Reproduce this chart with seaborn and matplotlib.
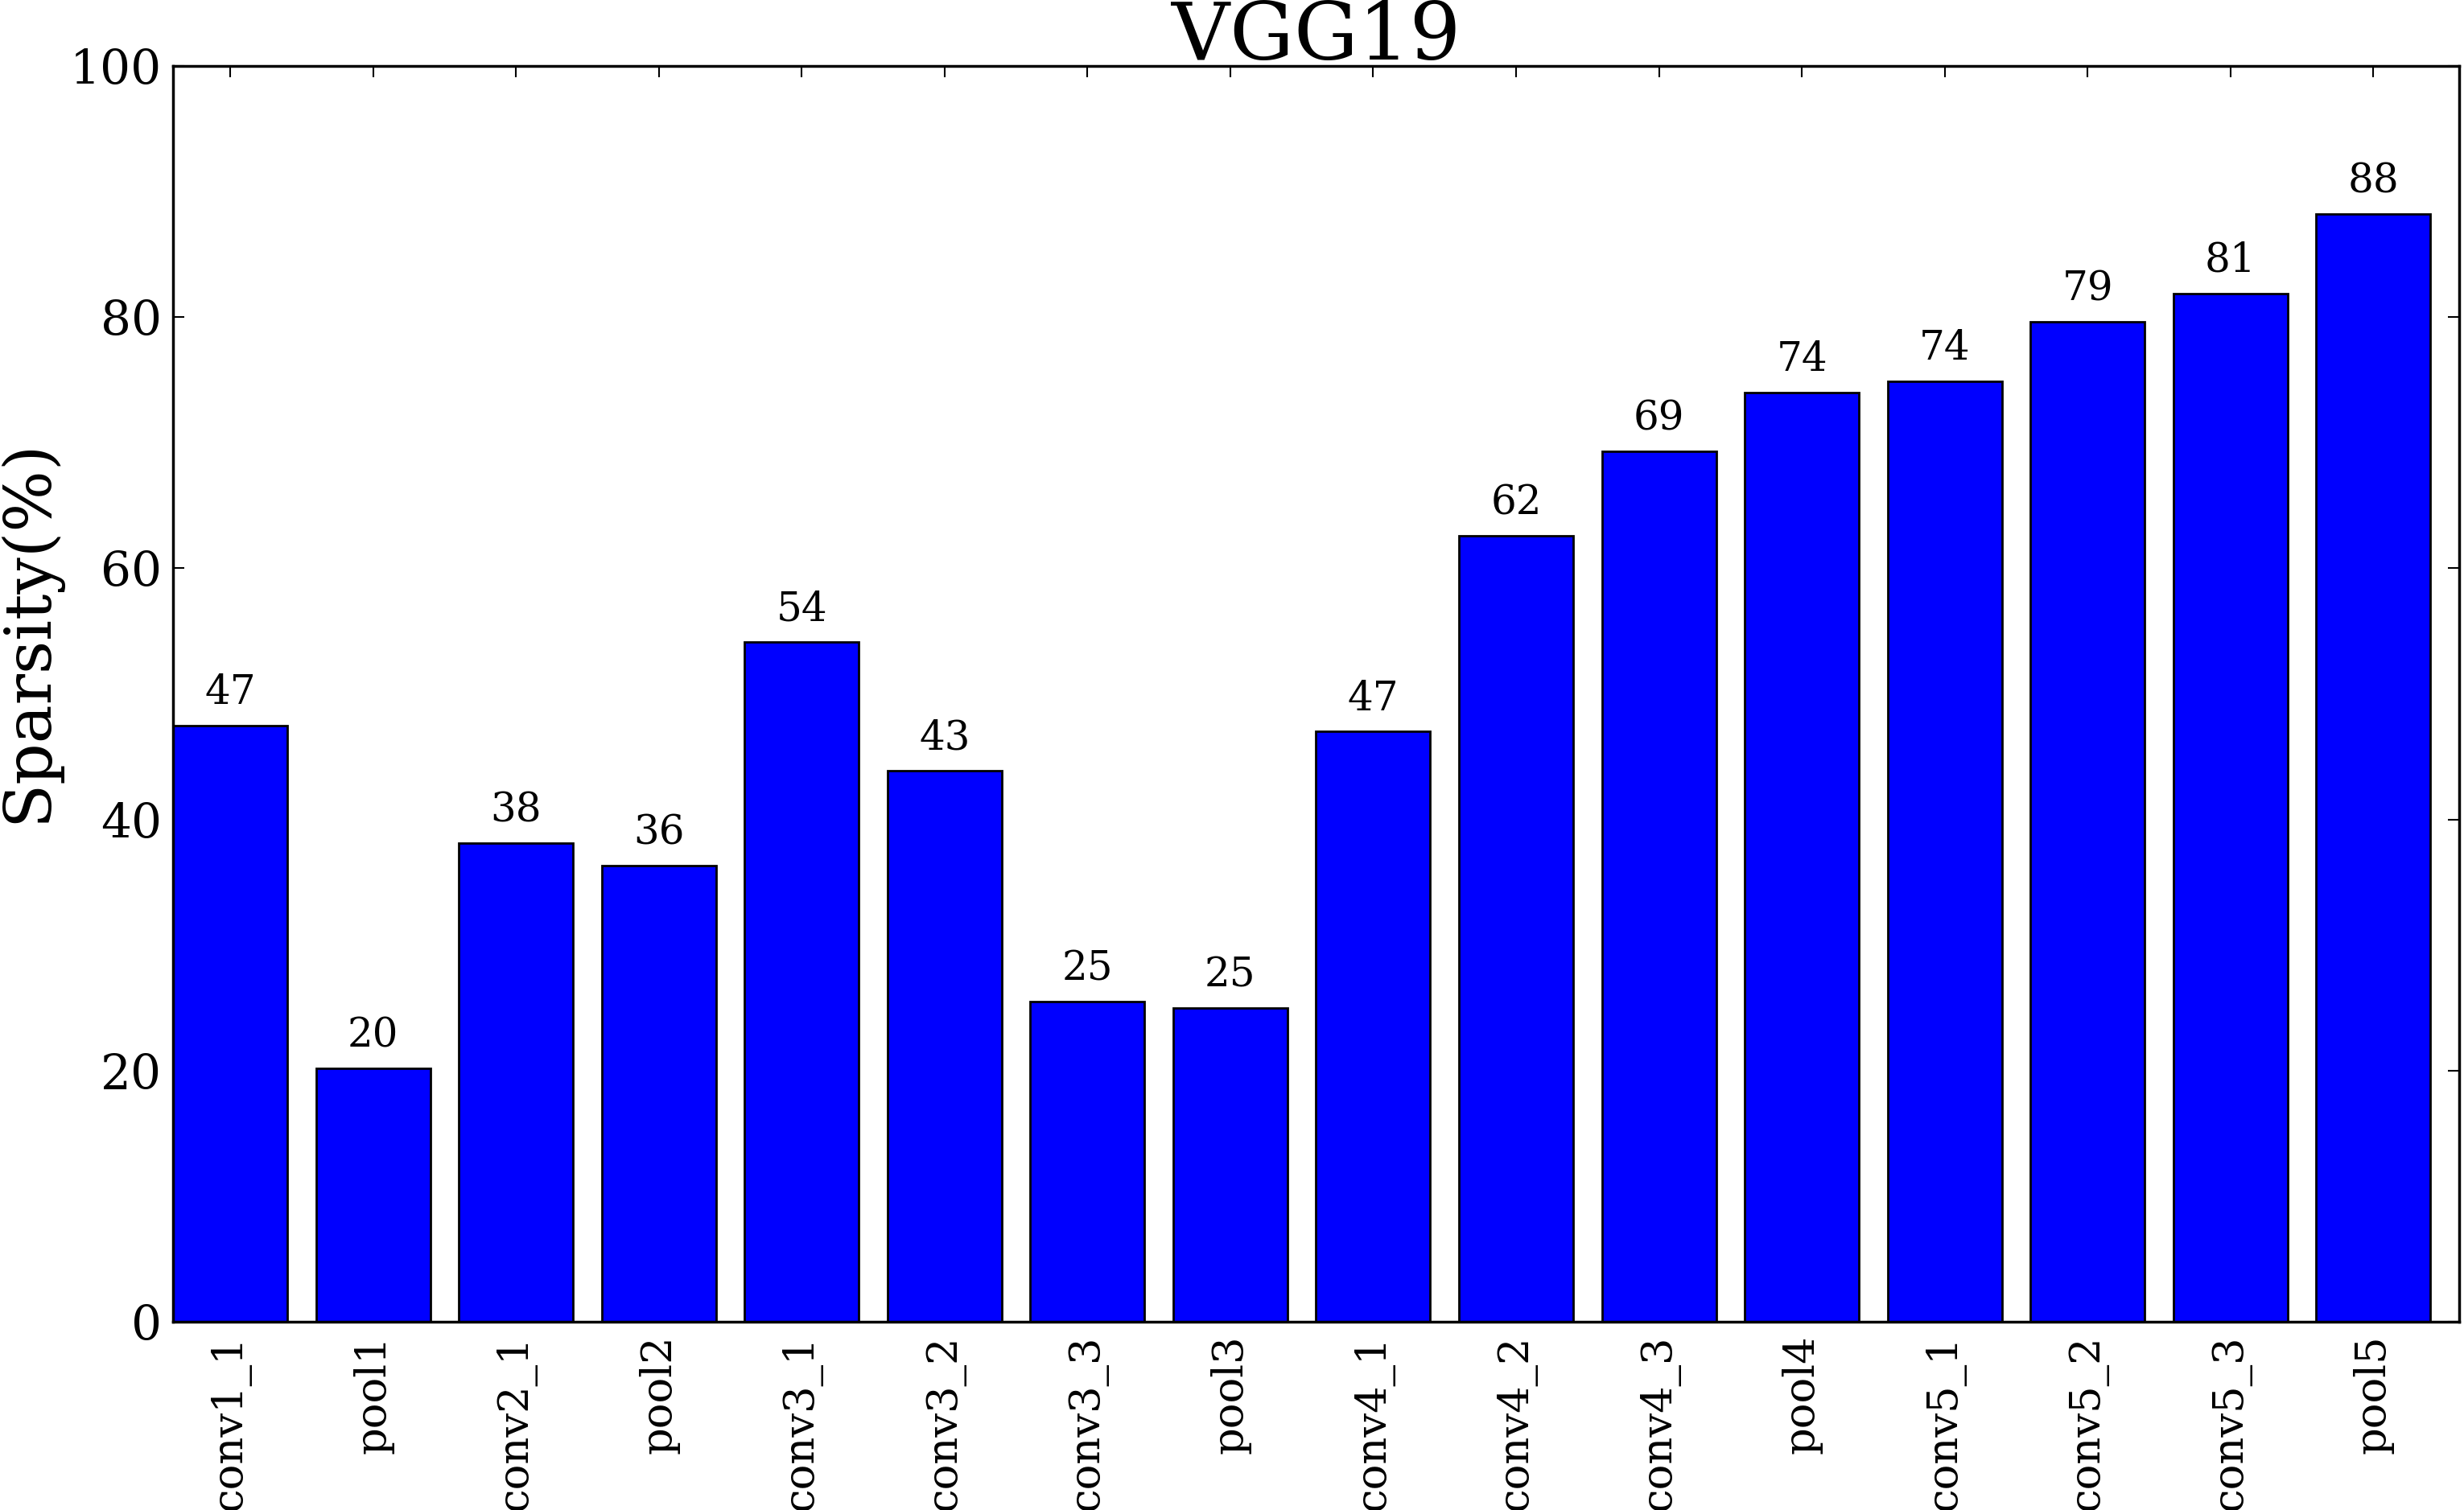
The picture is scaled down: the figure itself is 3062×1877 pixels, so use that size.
import numpy as np
import pandas as pd
import seaborn as sns
import matplotlib
matplotlib.use("Agg")
import matplotlib.pyplot as plt

# Layer sparsity for VGG19
layers = ['conv1_1', 'pool1', 'conv2_1', 'pool2', 'conv3_1', 'conv3_2',
          'conv3_3', 'pool3', 'conv4_1', 'conv4_2', 'conv4_3', 'pool4',
          'conv5_1', 'conv5_2', 'conv5_3', 'pool5']
sparsity = [47.5, 20.2, 38.1, 36.3, 54.1, 43.9, 25.5, 25.0,
            47.0, 62.6, 69.3, 74.0, 74.9, 79.6, 81.9, 88.2]
y_ticks = [0, 20, 40, 60, 80, 100]

data = pd.DataFrame({'Layer': layers, 'Sparsity': sparsity})

sns.set_style("ticks")
plt.rcParams['font.family'] = ['DejaVu Serif']
plt.rcParams['xtick.direction'] = 'in'
plt.rcParams['ytick.direction'] = 'in'
for key in ['text.color', 'axes.labelcolor', 'xtick.color', 'ytick.color',
            'axes.edgecolor']:
    plt.rcParams[key] = 'black'

fig, ax = plt.subplots(figsize=(30.62, 18.77), dpi=100)
fig.subplots_adjust(left=0.0702, right=0.998, top=0.9563, bottom=0.1247)

sns.barplot(x='Layer', y='Sparsity', data=data, order=layers, ax=ax,
            color='#0000ff', saturation=1, width=0.8,
            edgecolor='black', linewidth=2)

# value labels above each bar (truncated to int)
for i, v in enumerate(sparsity):
    ax.text(i, v + 1.0, str(int(v)), ha='center', va='bottom', fontsize=36)

ax.set_xlim(-0.4, 15.6)
ax.set_ylim(0, 100)
ax.set_yticks(y_ticks)
ax.set_xlabel('')
ax.set_ylabel('Sparsity(%)', fontsize=58)
ax.yaxis.set_label_coords(-0.049, 0.55)
ax.set_title('VGG19', fontsize=72, pad=6)

ax.tick_params(axis='x', labelsize=38, rotation=90, top=True, length=10,
               width=1.5, pad=12)
ax.tick_params(axis='y', labelsize=43, right=True, length=10,
               width=1.5, pad=10)
for s in ax.spines.values():
    s.set_linewidth(2.5)
    s.set_visible(True)

plt.savefig('out.png', dpi=100)
